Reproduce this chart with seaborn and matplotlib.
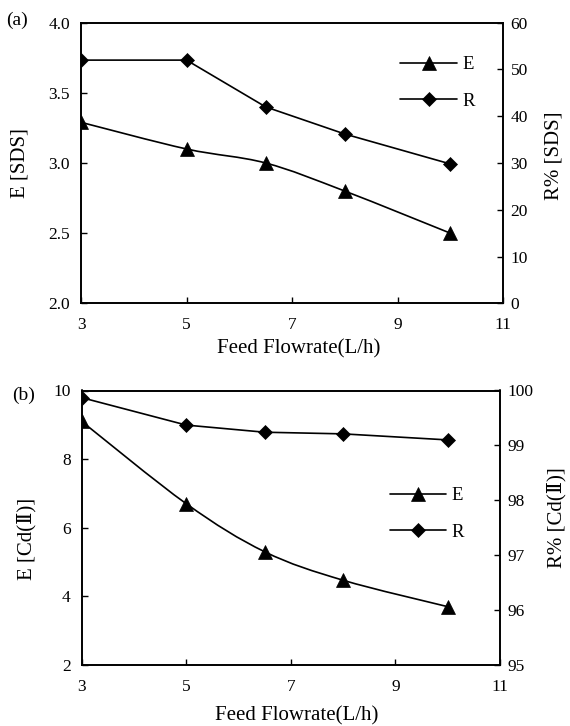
import numpy as np
import matplotlib
matplotlib.use("Agg")
import matplotlib.pyplot as plt
from matplotlib.path import Path
from matplotlib.patches import PathPatch
from matplotlib.lines import Line2D
import seaborn as sns

# Feed flowrate (L/h)
flowrate = [3, 5, 6.5, 8, 10]

# (a) SDS
e_sds = [3.29, 3.10, 3.00, 2.80, 2.50]
r_sds = [52.0, 52.0, 42.0, 36.2, 29.8]

# (b) Cd(II)
e_cd = [9.1, 6.7, 5.3, 4.47, 3.7]
r_cd = [99.87, 99.37, 99.24, 99.21, 99.10]

x_ticks = [3, 5, 7, 9, 11]
e_sds_ticks = [2.0, 2.5, 3.0, 3.5, 4.0]
r_sds_ticks = [0, 10, 20, 30, 40, 50, 60]
e_cd_ticks = [2, 4, 6, 8, 10]
r_cd_ticks = [95, 96, 97, 98, 99, 100]

sns.set_theme(style="white", rc={
    "axes.edgecolor": "black",
    "axes.linewidth": 1.2,
    "text.color": "black",
    "axes.labelcolor": "black",
    "xtick.color": "black",
    "ytick.color": "black",
})
plt.rcParams["font.family"] = ["Liberation Serif", "DejaVu Serif", "Noto Sans CJK SC"]

TICK_FS = 12.5
LABEL_FS = 15
LEG_FS = 13.5
TRI_MS = 10
DIA_MS = 7.4


def smooth_path(xs, ys):
    """Smoothed connecting line through the points (cubic Bezier segments)."""
    pts = np.column_stack([xs, ys]).astype(float)
    n = len(pts)
    verts = [pts[0]]
    codes = [Path.MOVETO]
    for i in range(n - 1):
        p0 = pts[max(i - 1, 0)]
        p1 = pts[i]
        p2 = pts[i + 1]
        p3 = pts[min(i + 2, n - 1)]
        c1 = p1 + (p2 - p0) / 6.0
        c2 = p2 - (p3 - p1) / 6.0
        verts += [c1, c2, p2]
        codes += [Path.CURVE4] * 3
    return Path(verts, codes)


def panel(fig, rect, e_vals, r_vals, e_lim, r_lim, e_ticks, r_ticks, e_fmt,
          e_label, r_label, tag, tag_xy, leg_xy, xlabel_y, elabel_xy, rlabel_xy):
    ax = fig.add_axes(rect)
    ax2 = ax.twinx()

    # E: smoothed line with triangle markers
    ax.add_patch(PathPatch(smooth_path(flowrate, e_vals), fill=False,
                           edgecolor="black", lw=1.2, zorder=2))
    sns.lineplot(x=flowrate, y=e_vals, ax=ax, color="black", marker="^",
                 markersize=TRI_MS, markeredgewidth=0.5, markeredgecolor="black",
                 linestyle="none", zorder=3)
    # R: straight segments with diamond markers
    sns.lineplot(x=flowrate, y=r_vals, ax=ax2, color="black", marker="D",
                 markersize=DIA_MS, markeredgewidth=0.5, markeredgecolor="black",
                 lw=1.2, zorder=3)

    ax.set_xlim(3, 11)
    ax.set_xticks(x_ticks)
    ax.set_xticklabels([str(t) for t in x_ticks])
    ax.set_ylim(*e_lim)
    ax.set_yticks(e_ticks)
    ax.set_yticklabels([e_fmt.format(t) for t in e_ticks])
    ax2.set_ylim(*r_lim)
    ax2.set_yticks(r_ticks)
    ax2.set_yticklabels([str(t) for t in r_ticks])

    ax.tick_params(axis="x", direction="in", length=4, width=1, labelsize=TICK_FS,
                   pad=10, bottom=True, top=False)
    ax.tick_params(axis="y", direction="in", length=4, width=1, labelsize=TICK_FS,
                   pad=8, left=True, right=False)
    ax2.tick_params(axis="y", direction="in", length=4, width=1, labelsize=TICK_FS,
                    pad=5.5, right=True, left=False, labelright=True, labelleft=False)

    ax.set_xlabel("Feed Flowrate(L/h)", fontsize=LABEL_FS)
    ax.xaxis.label.set_va("center")
    ax.xaxis.set_label_coords(0.515, xlabel_y)
    ax.set_ylabel(e_label, fontsize=LABEL_FS)
    ax.yaxis.label.set_va("center")
    ax.yaxis.set_label_coords(*elabel_xy)
    ax2.set_ylabel(r_label, fontsize=LABEL_FS)
    ax2.yaxis.label.set_va("center")
    ax2.yaxis.set_label_coords(*rlabel_xy)

    for sp in list(ax.spines.values()) + list(ax2.spines.values()):
        sp.set_color("black")
        sp.set_linewidth(1.2)

    handles = [
        Line2D([], [], color="black", lw=1.2, marker="^", markersize=TRI_MS,
               markeredgewidth=0.5),
        Line2D([], [], color="black", lw=1.2, marker="D", markersize=DIA_MS,
               markeredgewidth=0.5),
    ]
    ax2.legend(handles, ["E", "R"], loc="center left", bbox_to_anchor=leg_xy,
               frameon=False, fontsize=LEG_FS, handlelength=3.0,
               handletextpad=0.3, labelspacing=1.05, borderpad=0,
               borderaxespad=0, numpoints=1)

    fig.text(tag_xy[0] / 570, 1 - tag_xy[1] / 726, tag, fontsize=14,
             ha="center", va="center")
    return ax, ax2


fig = plt.figure(figsize=(5.7, 7.26), dpi=100)

panel(fig, [81 / 570, 1 - 303.3 / 726, 422 / 570, 280.6 / 726],
      e_sds, r_sds, (2.0, 4.0), (0, 60), e_sds_ticks, r_sds_ticks, "{:.1f}",
      "E [SDS]", "R% [SDS]", "(a)", (17, 20), (0.757, 0.785), -0.163,
      (-0.1436, 0.5), (1.120, 0.525))

panel(fig, [81.7 / 570, 1 - 665 / 726, 418.3 / 570, 274.5 / 726],
      e_cd, r_cd, (2, 10), (95, 100), e_cd_ticks, r_cd_ticks, "{:g}",
      "E [Cd(\u2161)]", "R% [Cd(\u2161)]", "(b)", (24, 395), (0.737, 0.550), -0.186,
      (-0.132, 0.459), (1.136, 0.537))

fig.savefig("out.png", dpi=100)
